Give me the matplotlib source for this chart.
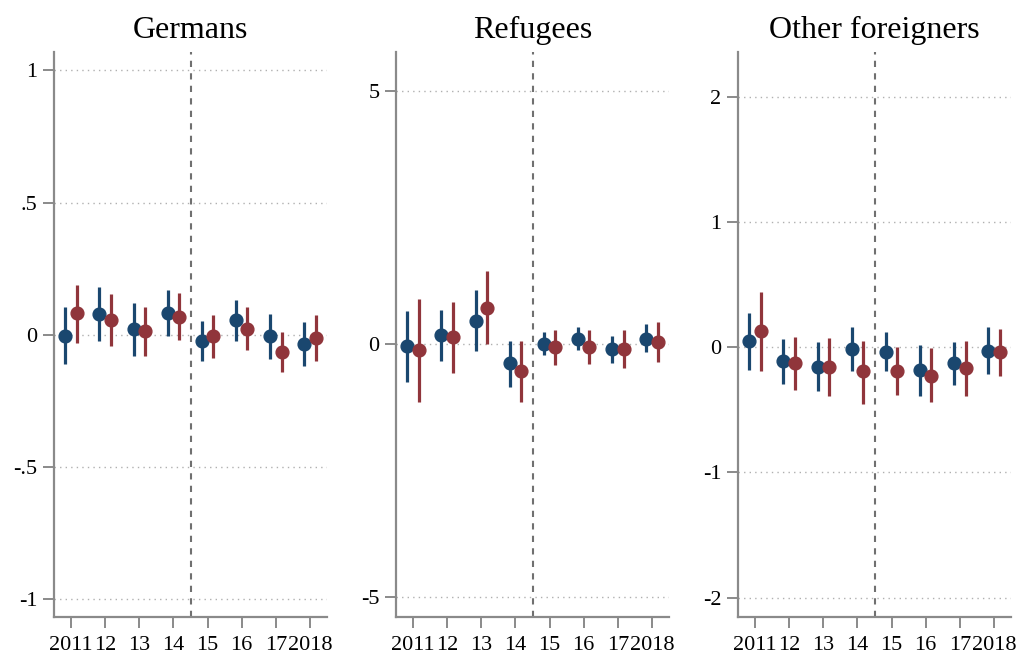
import numpy as np
import matplotlib
matplotlib.use("Agg")
import matplotlib.pyplot as plt

plt.rcParams['font.family'] = ['Liberation Serif', 'DejaVu Serif']

years = [1, 2, 3, 4, 5, 6, 7, 8]
year_labels = ["2011", "12", "13", "14", "15", "16", "17", "2018"]
titles = ["Germans", "Refugees", "Other foreigners"]

# Germans
ger_b = [-0.005, 0.079, 0.021, 0.084, -0.023, 0.054, -0.006, -0.035]
ger_b_lo = [-0.11, -0.025, -0.082, -0.005, -0.10, -0.023, -0.09, -0.117]
ger_b_hi = [0.105, 0.18, 0.122, 0.171, 0.053, 0.131, 0.078, 0.049]
ger_r = [0.082, 0.055, 0.015, 0.069, -0.004, 0.023, -0.064, -0.011]
ger_r_lo = [-0.03, -0.044, -0.08, -0.021, -0.088, -0.059, -0.141, -0.10]
ger_r_hi = [0.19, 0.155, 0.106, 0.157, 0.075, 0.104, 0.011, 0.075]

# Refugees
ref_b = [-0.04, 0.18, 0.46, -0.38, 0.01, 0.11, -0.10, 0.11]
ref_b_lo = [-0.75, -0.33, -0.14, -0.84, -0.21, -0.12, -0.37, -0.16]
ref_b_hi = [0.65, 0.68, 1.07, 0.07, 0.23, 0.34, 0.16, 0.39]
ref_r = [-0.11, 0.14, 0.72, -0.54, -0.06, -0.06, -0.10, 0.05]
ref_r_lo = [-1.14, -0.57, 0.0, -1.15, -0.41, -0.40, -0.48, -0.35]
ref_r_hi = [0.89, 0.83, 1.44, 0.07, 0.27, 0.28, 0.27, 0.44]

# Other foreigners
oth_b = [0.046, -0.11, -0.155, -0.017, -0.036, -0.185, -0.13, -0.028]
oth_b_lo = [-0.18, -0.29, -0.35, -0.19, -0.19, -0.39, -0.30, -0.21]
oth_b_hi = [0.27, 0.065, 0.04, 0.16, 0.12, 0.015, 0.04, 0.16]
oth_r = [0.13, -0.13, -0.155, -0.19, -0.19, -0.23, -0.165, -0.04]
oth_r_lo = [-0.19, -0.34, -0.39, -0.45, -0.38, -0.44, -0.39, -0.23]
oth_r_hi = [0.44, 0.08, 0.07, 0.05, 0.0, -0.01, 0.05, 0.145]

panels = [
    (ger_b, ger_b_lo, ger_b_hi, ger_r, ger_r_lo, ger_r_hi),
    (ref_b, ref_b_lo, ref_b_hi, ref_r, ref_r_lo, ref_r_hi),
    (oth_b, oth_b_lo, oth_b_hi, oth_r, oth_r_lo, oth_r_hi),
]
yticks = [[1, 0.5, 0, -0.5, -1], [5, 0, -5], [2, 1, 0, -1, -2]]
ytlabels = [["1", ".5", "0", "-.5", "-1"], ["5", "0", "-5"], ["2", "1", "0", "-1", "-2"]]
ylims = [(-1.068, 1.07), (-5.39, 5.77), (-2.154, 2.357)]

blue = "#1a476f"
red = "#90353b"
gray = "#8a8a8a"

fig = plt.figure(figsize=(10.19, 6.56), dpi=100)
lefts = [54, 396, 738]
w = 273
for i in range(3):
    ax = fig.add_axes([lefts[i] / 1019, 1 - 617 / 656, w / 1019, (617 - 52) / 656])
    b, blo, bhi, r, rlo, rhi = panels[i]
    x = np.array(years)
    for yt in yticks[i]:
        ax.axhline(yt, color="#b0b0b0", lw=1, ls=(0, (1, 3)), zorder=0)
    ax.axvline(4.5, color="#707070", lw=1.5, ls=(0, (3, 3)), zorder=1)
    ax.vlines(x - 0.17, blo, bhi, color=blue, lw=2.3, zorder=2)
    ax.plot(x - 0.17, b, "o", color=blue, ms=9.2, zorder=3)
    ax.vlines(x + 0.17, rlo, rhi, color=red, lw=2.3, zorder=2)
    ax.plot(x + 0.17, r, "o", color=red, ms=9.2, zorder=3)
    ax.set_xlim(0.5, 8.5)
    ax.set_ylim(*ylims[i])
    ax.set_xticks(years)
    ax.set_xticklabels(year_labels)
    ax.set_yticks(yticks[i])
    ax.set_yticklabels(ytlabels[i])
    for s in ["top", "right"]:
        ax.spines[s].set_visible(False)
    for s in ["left", "bottom"]:
        ax.spines[s].set_color(gray)
        ax.spines[s].set_linewidth(1.6)
    ax.tick_params(axis="both", color=gray, width=1.4, length=8, labelsize=16, pad=4)
    ax.tick_params(axis="x", pad=6)
    ax.set_title(titles[i], fontsize=23, pad=10)

plt.savefig("out.png", dpi=100)
